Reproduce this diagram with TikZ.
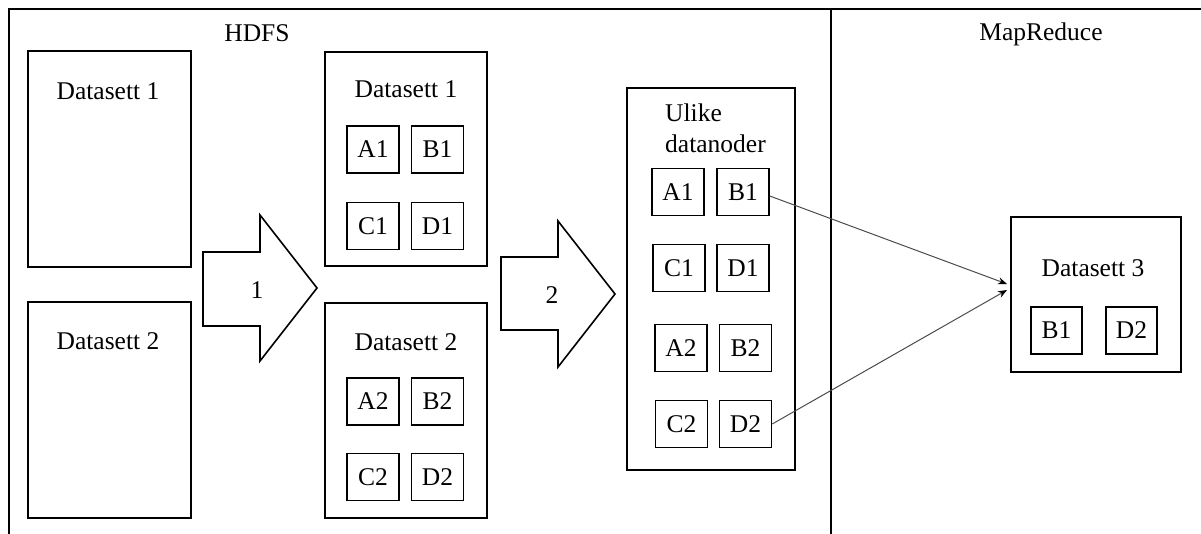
\documentclass[tikz,border=0pt]{standalone}
\usepackage{fontspec}
\setmainfont{Liberation Serif}
\usetikzlibrary{arrows.meta}
\begin{document}
\begin{tikzpicture}[x=1pt,y=-1pt,
  font=\fontsize{25.5}{30.6}\selectfont,
  frame/.style={line width=1.6pt,line cap=rect},
  bigbox/.style={draw,line width=1.6pt,inner sep=0pt},
  cell/.style={draw,line width=1.5pt,inner sep=0pt,minimum width=52pt,minimum height=47pt},
  lbl/.style={inner sep=0pt,anchor=base},
  blockarrow/.style={draw,line width=1.6pt,line join=miter},
  conn/.style={draw=black!70,line width=1pt,-{Stealth[length=9pt,width=7pt,black]}}]
\useasboundingbox (0,0) rectangle (1201,534);
% frame
\draw[frame] (9,534) -- (9,9) -- (1201,9);
\draw[frame] (831,9) -- (831,534);
\node[lbl] (hdfs) at (257,42) {HDFS};
\node[lbl] (mr) at (1041,41) {MapReduce};
% left datasets
\node[bigbox,minimum width=163pt,minimum height=216pt] (ds1) at (109.5,159) {};
\node[lbl] (ds1l) at (108,100) {Datasett 1};
\node[bigbox,minimum width=163pt,minimum height=216pt] (ds2) at (109.5,410) {};
\node[lbl] (ds2l) at (108,349) {Datasett 2};
% block arrow 1
\draw[blockarrow] (203,252) -- (260,252) -- (260,215) -- (317,288) -- (260,361) -- (260,326) -- (203,326) -- cycle;
\node[lbl] (one) at (257,299) {1};
% middle datasets
\node[bigbox,minimum width=162pt,minimum height=214pt] (m1) at (406,159) {};
\node[lbl] (m1l) at (406,98) {Datasett 1};
\node[cell] (ma1) at (373,149.5) {A1};
\node[cell] (mb1) at (437.5,149.5) {B1};
\node[cell] (mc1) at (373,226) {C1};
\node[cell] (md1) at (437.5,226) {D1};
\node[bigbox,minimum width=162pt,minimum height=215pt] (m2) at (406,410.5) {};
\node[lbl] (m2l) at (406,350) {Datasett 2};
\node[cell] (ma2) at (373,401.5) {A2};
\node[cell] (mb2) at (437.5,401.5) {B2};
\node[cell] (mc2) at (373,477) {C2};
\node[cell] (md2) at (437.5,477) {D2};
% block arrow 2
\draw[blockarrow] (501,257) -- (558,257) -- (558,221) -- (615,294) -- (558,367) -- (558,330) -- (501,330) -- cycle;
\node[lbl] (two) at (552,304) {2};
% ulike datanoder
\node[bigbox,minimum width=168pt,minimum height=382pt] (ul) at (711,279) {};
\node[inner sep=0pt,anchor=base west] (ull1) at (665,122) {Ulike};
\node[inner sep=0pt,anchor=base west] (ull2) at (665,153) {datanoder};
\node[cell] (ua1) at (678,192) {A1};
\node[cell] (ub1) at (743,192) {B1};
\node[cell] (uc1) at (679,268) {C1};
\node[cell] (ud1) at (743,268) {D1};
\node[cell] (ua2) at (681,348) {A2};
\node[cell] (ub2) at (745.5,348) {B2};
\node[cell] (uc2) at (681.5,424) {C2};
\node[cell] (ud2) at (745.5,424) {D2};
% datasett 3
\node[bigbox,minimum width=170pt,minimum height=155pt] (ds3) at (1096,294.5) {};
\node[lbl] (ds3l) at (1093,277) {Datasett 3};
\node[cell,minimum width=51pt] (db1) at (1056.5,330.5) {B1};
\node[cell,minimum width=51pt] (dd2) at (1131.5,330.5) {D2};
% connectors
\coordinate (t1) at (1007,284);
\coordinate (t2) at (1007,290);
\draw[conn] ([yshift=-4pt]ub1.east) -- (t1);
\draw[conn] (ud2.east) -- (t2);
\end{tikzpicture}
\end{document}
